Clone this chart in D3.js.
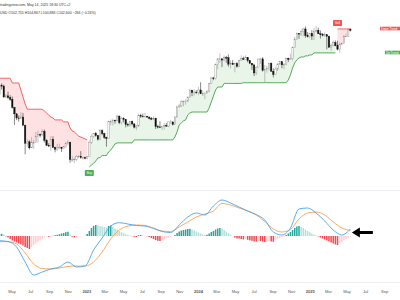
<!DOCTYPE html>
<html>
<head>
<meta charset="utf-8">
<script src="https://cdn.jsdelivr.net/npm/d3@7"></script>
<style>
  html, body { margin: 0; padding: 0; background: #fff; }
  svg { display: block; font-family: "Liberation Sans", Arial, sans-serif; }
</style>
</head>
<body>
<div id="chart"></div>
<script>
// Weekly BTC candles (prices in thousands), first week starts 2022-03-21
const firstWeek = "2022-03-21";
const firstOpen = 41.3;
const highs = [46.9,48.2,47.4,41.5,42.9,40.8,40.0,34.5,31.5,30.6,32.2,31.7,26.8,21.9,21.5,22.5,21.6,24.2,24.6,23.6,
  25.2,25.0,21.8,20.6,22.8,22.7,19.6,20.4,20.5,19.5,19.7,21.0,21.5,21.0,17.2,16.8,17.4,17.4,18.4,17.0,
  17.0,17.2,21.4,23.4,23.8,24.2,23.2,25.2,25.1,23.9,22.6,28.4,28.9,29.2,28.8,30.9,30.5,30.0,29.8,29.0,
  27.6,28.3,28.4,27.4,26.8,31.4,31.3,31.4,31.8,30.4,30.0,29.9,30.2,29.6,26.8,28.1,26.4,27.5,27.5,28.0,
  28.6,27.9,30.3,35.2,36.1,38.0,37.9,38.4,40.2,44.7,44.0,44.4,43.8,45.9,49.0,43.6,42.8,43.9,48.6,52.8,
  52.9,64.0,69.2,73.8,68.9,71.8,71.3,72.8,66.9,67.2,64.7,65.5,67.7,71.9,70.6,71.9,70.0,66.9,64.4,63.8,
  61.4,68.4,69.4,70.0,62.7,62.0,65.0,64.9,59.8,60.7,64.1,66.5,65.7,64.5,69.4,69.5,73.6,81.5,93.5,99.6,
  98.7,104.0,106.6,108.3,99.9,99.0,102.7,106.0,109.6,106.5,102.3,98.8,99.5,96.5,95.0,85.3,88.8,88.8,88.5,86.1,
  86.4,95.8,97.9,104.9,105.8];
const lows = [40.9,44.2,39.6,39.2,38.5,37.6,33.7,26.7,28.6,28.0,29.3,26.5,17.6,19.6,18.8,19.2,19.0,20.8,20.7,22.4,
  22.7,20.8,19.8,19.5,18.5,19.3,18.1,18.5,19.1,18.2,18.9,19.3,20.0,15.6,15.8,15.5,16.0,16.7,16.5,16.3,
  16.4,16.5,17.0,20.4,22.3,22.6,21.4,21.5,23.1,21.9,19.6,21.9,26.6,26.5,27.2,28.2,27.0,26.9,27.7,25.8,
  26.1,26.0,26.5,25.4,24.8,26.2,29.5,29.7,29.9,29.5,28.9,28.6,28.7,25.2,25.4,25.6,24.9,25.0,26.0,25.9,
  27.2,26.5,26.8,29.8,34.1,34.5,34.8,35.6,37.0,39.4,40.2,40.6,41.5,40.8,41.5,40.3,38.5,41.8,42.5,48.2,
  50.5,50.9,59.0,64.6,60.8,66.4,64.5,61.2,59.6,62.8,56.5,60.2,60.8,66.7,67.3,67.6,65.1,63.4,58.4,53.5,
  54.3,60.6,63.5,57.1,49.0,56.1,57.8,57.2,52.5,54.6,57.5,62.7,59.8,58.9,62.5,65.3,67.5,66.8,80.2,89.4,
  90.8,94.6,94.2,92.2,92.6,91.5,89.3,89.3,99.5,97.5,91.2,94.1,93.4,78.2,80.0,76.6,81.6,81.6,77.1,74.5,
  83.1,85.1,93.3,93.4,100.9];
const closes = [46.8,46.4,39.7,40.4,39.4,38.5,34.3,31.3,29.5,29.4,29.9,26.6,20.6,21.0,19.3,20.8,20.8,22.6,23.3,23.2,
  24.4,21.5,20.0,19.8,21.8,19.4,18.9,19.3,19.4,19.1,19.6,20.6,20.9,16.3,16.3,16.4,17.1,17.1,16.8,16.8,
  16.6,17.1,20.9,22.7,23.7,23.0,21.8,24.6,23.6,22.4,22.0,28.0,28.0,28.5,28.3,30.3,27.6,29.2,28.9,26.9,
  26.7,28.1,27.1,25.9,26.3,30.5,30.3,30.2,30.2,29.9,29.3,29.0,29.4,26.1,26.0,25.8,26.2,26.5,26.3,27.9,
  27.9,26.9,29.9,34.5,35.0,37.1,37.4,37.5,39.5,43.8,42.3,42.6,42.3,43.9,41.6,41.6,42.0,43.0,48.3,52.1,
  51.7,63.1,68.4,68.4,67.2,69.6,69.4,63.4,64.3,63.1,63.9,61.5,66.9,68.5,67.8,69.6,66.7,64.3,62.7,55.9,
  60.8,68.2,68.3,58.1,58.7,59.5,64.2,57.3,54.8,59.1,63.6,65.6,62.8,62.9,69.0,67.9,68.7,80.4,89.8,98.0,
  97.2,101.1,104.5,95.2,93.7,98.3,94.5,101.3,102.6,97.7,96.5,96.1,96.3,94.2,80.7,82.6,86.1,82.4,78.4,83.7,
  85.1,93.8,94.3,104.2,102.6];

// Supertrend level per week (thousands) and where it flips
const supertrend = [51.9,51.9,51.9,51.9,51.9,51.9,48.5,48.5,48.5,48.5,43.9,39.8,36.0,33.4,33.4,33.4,33.4,33.4,33.4,33.4,
  33.4,32.6,31.7,30.8,29.9,29.5,28.7,28.7,28.7,28.7,27.9,27.9,27.9,25.6,24.5,24.2,23.5,22.8,22.5,22.2,
  21.9,21.6,14.7,15.1,15.5,16.0,16.7,16.8,17.3,17.3,17.3,18.2,18.7,19.5,20.4,20.7,20.7,20.7,20.7,20.7,
  20.7,20.7,20.7,21.6,21.6,21.6,21.6,21.6,21.6,21.6,21.6,21.6,21.6,21.6,21.6,21.6,21.6,21.6,21.6,21.6,
  21.6,21.6,22.5,24.2,26.7,27.5,28.3,28.7,30.8,31.7,32.1,32.1,32.1,32.1,32.1,32.1,32.1,32.1,34.0,37.0,
  40.3,43.9,45.8,45.8,45.8,48.2,48.2,48.2,48.2,48.2,48.2,48.2,48.2,48.2,48.7,48.7,48.7,48.7,48.7,48.7,
  48.7,48.7,48.7,48.7,48.7,48.7,48.7,48.7,48.7,48.7,48.7,48.7,48.7,48.7,48.7,50.6,54.4,60.1,64.5,67.4,
  69.2,70.2,70.2,71.3,71.3,72.3,72.3,74.4,74.4,74.4,74.4,74.4,74.4,74.4,74.4,74.4,74.4,74.4,104.6,104.6,
  104.6,104.6,104.6,104.6,104.6];
const signals = [{ week: 42, type: "Buy" }, { week: 158, type: "Sell" }];

// MACD histogram, one value per week
const macdHist = [200,220,150,-50,-150,-300,-450,-550,-650,-750,-850,-950,-1100,-1200,-1300,-1100,-900,-750,-600,-450,
  -300,-150,-50,-80,-60,30,80,120,180,250,300,380,430,150,-80,-150,-120,-60,-30,0,
  20,200,500,800,1000,1100,1050,1000,950,900,850,1000,1050,900,750,650,500,380,280,180,
  120,60,-30,-80,-100,80,100,60,20,-20,-100,-200,-300,-400,-480,-500,-470,-350,-250,-150,
  -80,-20,100,300,450,550,600,650,700,720,650,550,450,350,250,150,100,120,250,400,
  500,650,750,800,750,600,450,300,150,0,-150,-250,-250,-300,-350,-320,-380,-430,-480,-550,
  -570,-480,-500,-560,-600,-580,-520,-550,-580,-450,-300,-200,-120,-60,100,250,400,600,800,950,
  1000,900,800,650,500,380,250,150,60,-50,-150,-250,-350,-450,-550,-650,-750,-850,-900,-750,
  -600,-450,-300,-150,-50];
// MACD and signal lines, one value every 4 weeks
const lineStep = 4;
const macdLine = [-470,-550,-1100,-2600,-3900,-3600,-3300,-3100,-2600,-3100,-3000,-1400,-200,1000,1330,1200,1050,1000,750,450,
  350,1100,1900,2300,2100,3000,3600,3300,2900,2500,2150,1600,400,100,800,2700,2800,2300,1500,600,
  100,700];
const signalLine = [-570,-570,-800,-1700,-2800,-3250,-3300,-3200,-3050,-3000,-3000,-2600,-1600,-300,600,1000,1100,1050,800,500,
  450,900,1400,1900,2200,2500,3250,3100,2800,2500,2100,1450,700,400,650,1700,2300,2400,2100,1400,
  800,550];

const tickDates = ["2022-05-01","2022-07-01","2022-09-01","2022-11-01","2023-01-01","2023-03-01","2023-05-01",
  "2023-07-01","2023-09-01","2023-11-01","2024-01-01","2024-03-01","2024-05-01","2024-07-01","2024-09-01",
  "2024-11-01","2025-01-01","2025-03-01","2025-05-01","2025-07-01","2025-09-01"];
const tickLabels = ["May","Jul","Sep","Nov","2023","Mar","May","Jul","Sep","Nov","2024","Mar","May","Jul","Sep",
  "Nov","2025","Mar","May","Jul","Sep"];

const headerLines = [
  "tradingview.com, May 14, 2025 18:30 UTC+2",
  "USD  O102,755 H104,867 L100,886 C102,600 \u2212266 (\u22120.26%)"
];

(function () {
  const width = 400;
  const height = 300;
  const parse = d3.utcParse("%Y-%m-%d");

  const svg = d3.select("#chart").append("svg")
    .attr("width", width).attr("height", height)
    .attr("viewBox", `0 0 ${width} ${height}`);
  svg.append("rect").attr("width", width).attr("height", height).attr("fill", "#fff");

  const start = parse(firstWeek);
  const weeks = closes.map((c, i) => d3.utcDay.offset(start, i * 7));
  const candles = closes.map((c, i) => ({
    i, date: weeks[i], open: i ? closes[i - 1] : firstOpen, high: highs[i], low: lows[i], close: c
  }));

  const x = d3.scaleUtc().domain([parse("2022-05-01"), parse("2025-05-01")]).range([12, 347]);
  const yP = d3.scaleLog().domain([16, 106]).range([161, 28]);
  const yM = d3.scaleLinear().domain([-5000, 5000]).range([286, 186]);

  // pane borders
  const grid = svg.append("g").attr("stroke", "#e0e3eb").attr("stroke-width", 0.6);
  grid.append("line").attr("x1", 0).attr("x2", width).attr("y1", 190.5).attr("y2", 190.5);
  grid.append("line").attr("x1", 0).attr("x2", width).attr("y1", 282.5).attr("y2", 282.5);

  // supertrend side per week
  const sides = [];
  let side = "down";
  candles.forEach((d, i) => {
    const s = signals.find((g) => g.week === i);
    if (s) side = s.type === "Buy" ? "up" : "down";
    sides.push(side);
  });
  const segments = [];
  candles.forEach((d, i) => {
    const pt = { ...d, st: supertrend[i], side: sides[i] };
    if (!segments.length || segments[segments.length - 1].side !== sides[i]) {
      segments.push({ side: sides[i], pts: [] });
    }
    segments[segments.length - 1].pts.push(pt);
  });

  const colors = { up: "#43a047", down: "#ef5350" };
  const fills = { up: "rgba(76,175,80,0.13)", down: "rgba(242,54,69,0.15)" };

  const area = d3.area()
    .x((d) => x(d.date))
    .y0((d) => yP(d.st))
    .y1((d) => yP((d.open + d.close) / 2));
  const stLine = d3.line().x((d) => x(d.date)).y((d) => yP(d.st));

  // trend fills under the candles
  svg.append("g").selectAll("path").data(segments).join("path")
    .attr("d", (s) => area(s.pts)).attr("fill", (s) => fills[s.side]);

  // candles
  const bw = 1.4;
  const cg = svg.append("g");
  cg.selectAll("line").data(candles).join("line")
    .attr("x1", (d) => x(d.date)).attr("x2", (d) => x(d.date))
    .attr("y1", (d) => yP(d.high)).attr("y2", (d) => yP(d.low))
    .attr("stroke", (d) => d.close >= d.open ? "#8a8a8a" : "#111")
    .attr("stroke-width", 0.5);
  cg.selectAll("rect").data(candles).join("rect")
    .attr("x", (d) => x(d.date) - bw / 2)
    .attr("width", bw)
    .attr("y", (d) => yP(Math.max(d.open, d.close)))
    .attr("height", (d) => Math.max(0.6, Math.abs(yP(d.open) - yP(d.close))))
    .attr("fill", (d) => d.close >= d.open ? "#fff" : "#111")
    .attr("stroke", (d) => d.close >= d.open ? "#8a8a8a" : "#111")
    .attr("stroke-width", 0.4);

  svg.append("g").selectAll("path").data(segments).join("path")
    .attr("d", (s) => stLine(s.pts)).attr("fill", "none")
    .attr("stroke", (s) => colors[s.side]).attr("stroke-width", 0.9);

  // buy / sell labels
  const lab = svg.append("g").selectAll("g").data(signals).join("g")
    .attr("transform", (s) => {
      const px = x(weeks[s.week]);
      const py = yP(supertrend[s.week]);
      return `translate(${px},${s.type === "Buy" ? py + 5 : py - 5})`;
    });
  lab.append("rect")
    .attr("x", -4.5).attr("width", 9)
    .attr("y", (s) => s.type === "Buy" ? -2 : -4).attr("height", 6)
    .attr("rx", 0.8)
    .attr("fill", (s) => s.type === "Buy" ? "#4caf50" : "#f05454");
  lab.append("text")
    .attr("y", (s) => s.type === "Buy" ? 2.2 : 0.2)
    .attr("text-anchor", "middle").attr("font-size", 3).attr("fill", "#fff")
    .text((s) => s.type);

  // price-scale labels for last supertrend values
  const lastTrend = [
    { name: "Down Trend", value: supertrend[supertrend.length - 1], color: "#f05454", w: 20 },
    { name: "Up Trend", value: supertrend[signals[1].week - 1], color: "#4caf50", w: 15 }
  ];
  const pl = svg.append("g").selectAll("g").data(lastTrend).join("g")
    .attr("transform", (d) => `translate(${width - d.w},${yP(d.value) - 2.2})`);
  pl.append("rect").attr("width", (d) => d.w).attr("height", 3.6).attr("fill", (d) => d.color);
  pl.append("text").attr("x", 1).attr("y", 2.8).attr("font-size", 3).attr("fill", "#fff").text((d) => d.name);

  // MACD histogram
  const hb = 1.5;
  svg.append("g").selectAll("rect").data(macdHist).join("rect")
    .attr("x", (v, i) => x(weeks[i]) - hb / 2)
    .attr("width", hb)
    .attr("y", (v) => Math.min(yM(v), yM(0)))
    .attr("height", (v) => Math.abs(yM(v) - yM(0)))
    .attr("fill", (v, i) => {
      const prev = i ? macdHist[i - 1] : v;
      if (v >= 0) return v >= prev ? "#26a69a" : "#b2dfdb";
      return v <= prev ? "#f0494f" : "#ffcdd2";
    });

  const lineWeeks = macdLine.map((v, k) => weeks[Math.min(k * lineStep, weeks.length - 1)]);
  const ml = d3.line().x((v, k) => x(lineWeeks[k])).y((v) => yM(v)).curve(d3.curveMonotoneX);
  svg.append("path").attr("d", ml(signalLine)).attr("fill", "none").attr("stroke", "#f5a057").attr("stroke-width", 0.9);
  svg.append("path").attr("d", ml(macdLine)).attr("fill", "none").attr("stroke", "#4aa3ea").attr("stroke-width", 0.9);

  // arrow pointing at the latest MACD value
  const ax = x(lineWeeks[lineWeeks.length - 1]) + 1.5;
  const ay = yM(signalLine[signalLine.length - 1]) + 2;
  svg.append("path")
    .attr("d", `M${ax},${ay} L${ax + 8},${ay - 5} L${ax + 8},${ay - 1.6} L${ax + 21},${ay - 1.6} L${ax + 21},${ay + 1.6} L${ax + 8},${ay + 1.6} L${ax + 8},${ay + 5} Z`)
    .attr("fill", "#000");

  // time axis
  const ta = svg.append("g").attr("font-size", 4).attr("fill", "#555").attr("text-anchor", "middle");
  ta.selectAll("text").data(tickDates).join("text")
    .attr("x", (d) => x(parse(d)))
    .attr("y", 292.5)
    .attr("font-weight", (d, i) => /^\d{4}$/.test(tickLabels[i]) ? "bold" : "normal")
    .text((d, i) => tickLabels[i]);

  // header
  svg.append("g").attr("font-size", 3.5).attr("fill", "#333")
    .selectAll("text").data(headerLines).join("text")
    .attr("x", 0).attr("y", (d, i) => 6 + i * 7.5)
    .text((d) => d);
})();
</script>
</body>
</html>
